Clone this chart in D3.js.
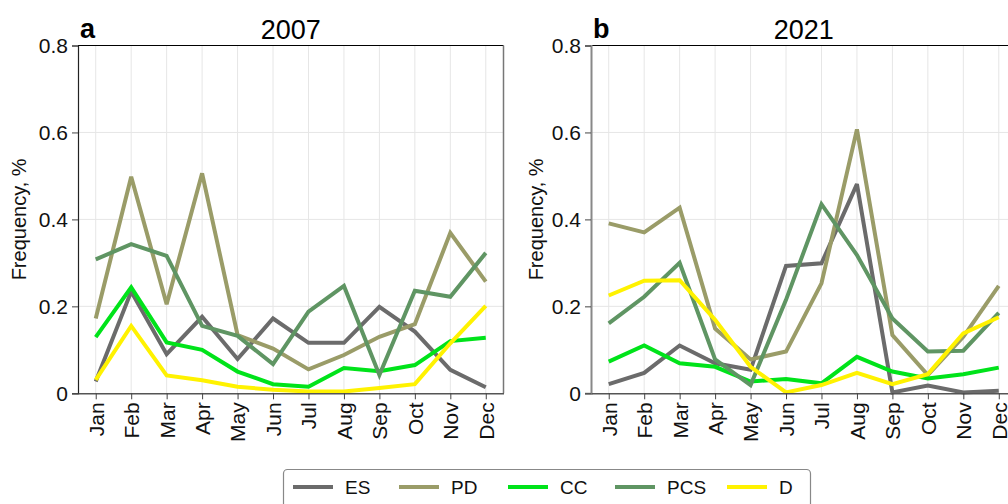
<!DOCTYPE html>
<html>
<head>
<meta charset="utf-8">
<script src="https://cdn.jsdelivr.net/npm/d3@7"></script>
<style>
  body { margin: 0; background: #fff; }
  svg { font-family: "Liberation Sans", Arial, sans-serif; }
</style>
</head>
<body>
<div id="chart"></div>
<script>
const months = ["Jan","Feb","Mar","Apr","May","Jun","Jul","Aug","Sep","Oct","Nov","Dec"];
const seriesNames = ["ES","PD","CC","PCS","D"];
const colors = ["#6b6b6b","#9a9c68","#00e31a","#5f9563","#fff200"];
const yTicks = [0, 0.2, 0.4, 0.6, 0.8];

// 2007
const es2007  = [0.027,0.234,0.090,0.176,0.079,0.172,0.116,0.116,0.199,0.142,0.054,0.014];
const pd2007  = [0.172,0.498,0.205,0.506,0.134,0.103,0.055,0.088,0.130,0.159,0.369,0.257];
const cc2007  = [0.129,0.244,0.117,0.100,0.050,0.021,0.015,0.058,0.051,0.065,0.120,0.128];
const pcs2007 = [0.308,0.343,0.316,0.155,0.132,0.067,0.188,0.247,0.042,0.236,0.222,0.323];
const d2007   = [0.031,0.155,0.041,0.030,0.015,0.008,0.004,0.004,0.012,0.021,0.115,0.201];

// 2021
const es2021  = [0.021,0.047,0.110,0.069,0.054,0.293,0.299,0.481,0.002,0.018,0.002,0.006];
const pd2021  = [0.391,0.370,0.427,0.149,0.078,0.096,0.253,0.607,0.134,0.042,0.130,0.247];
const cc2021  = [0.073,0.110,0.069,0.061,0.027,0.033,0.023,0.084,0.050,0.034,0.044,0.059];
const pcs2021 = [0.161,0.222,0.300,0.078,0.019,0.215,0.435,0.318,0.172,0.096,0.098,0.185];
const d2021   = [0.225,0.259,0.260,0.169,0.061,0.002,0.019,0.047,0.021,0.044,0.138,0.175];

const panels = [
  {tag: "a", title: "2007", left: 78, labelX: -52, data: [es2007, pd2007, cc2007, pcs2007, d2007], axisColor: "#222"},
  {tag: "b", title: "2021", left: 591, labelX: -48, data: [es2021, pd2021, cc2021, pcs2021, d2021], axisColor: "#888"}
];

const W = 1008, H = 504;
const plotTop = 45.5, plotBottom = 393.3, pw = 425.5;

const svg = d3.select("#chart").append("svg")
    .attr("width", W).attr("height", H);

panels.forEach(p => {
  const g = svg.append("g").attr("transform", `translate(${p.left},0)`);

  const x = d3.scalePoint().domain(months).range([0, pw]).padding(0.5);
  const y = d3.scaleLinear().domain([0, 0.8]).range([plotBottom, plotTop]);

  // grid
  g.append("g").selectAll("line").data(months).enter().append("line")
      .attr("x1", d => x(d)).attr("x2", d => x(d))
      .attr("y1", plotTop).attr("y2", plotBottom)
      .attr("stroke", "#e6e6e6").attr("stroke-width", 1);
  g.append("g").selectAll("line").data(yTicks.slice(1)).enter().append("line")
      .attr("x1", 0).attr("x2", pw)
      .attr("y1", d => y(d)).attr("y2", d => y(d))
      .attr("stroke", "#e6e6e6").attr("stroke-width", 1);

  // box: top and right
  g.append("line").attr("x1", 0).attr("x2", pw).attr("y1", plotTop).attr("y2", plotTop)
      .attr("stroke", "#000").attr("stroke-width", 1.2);
  g.append("line").attr("x1", pw).attr("x2", pw).attr("y1", plotTop).attr("y2", plotBottom)
      .attr("stroke", "#777").attr("stroke-width", 1.5);

  // lines
  const line = d3.line().x((d, i) => x(months[i])).y(d => y(d));
  p.data.forEach((vals, k) => {
    g.append("path").datum(vals)
      .attr("d", line)
      .attr("fill", "none")
      .attr("stroke", colors[k])
      .attr("stroke-width", 4)
      .attr("stroke-linejoin", "miter")
      .attr("stroke-miterlimit", 3);
  });

  // y axis
  const ya = g.append("g")
      .call(d3.axisLeft(y).tickValues(yTicks).tickSize(6)
        .tickFormat(d => d === 0 ? "0" : d3.format(".1f")(d)));
  ya.select(".domain").attr("stroke", p.axisColor).attr("stroke-width", p.tag === "b" ? 2 : 1.2);
  ya.selectAll(".tick line").attr("stroke", "#444");
  ya.selectAll(".tick text").attr("font-size", 21).attr("fill", "#111")
      .attr("font-family", "Liberation Sans, Arial, sans-serif").attr("x", -10);

  // x axis
  const xa = g.append("g").attr("transform", `translate(0,${plotBottom})`)
      .call(d3.axisBottom(x).tickSize(6).tickSizeOuter(0));
  xa.select(".domain").attr("stroke", "#555").attr("stroke-width", 1.5);
  xa.selectAll(".tick line").attr("stroke", "#444");
  xa.selectAll(".tick text")
      .attr("font-size", 21).attr("fill", "#111")
      .attr("font-family", "Liberation Sans, Arial, sans-serif")
      .attr("transform", "rotate(-90)")
      .attr("text-anchor", "end")
      .attr("x", -9).attr("y", 0).attr("dy", "0.35em");

  // y label
  g.append("text")
      .attr("transform", `translate(${p.labelX},${(plotTop + plotBottom) / 2}) rotate(-90)`)
      .attr("text-anchor", "middle")
      .attr("font-size", 20).attr("fill", "#111")
      .text("Frequency, %");

  // titles
  g.append("text").attr("x", 2).attr("y", 38)
      .attr("font-size", 27).attr("font-weight", "bold").attr("fill", "#000")
      .text(p.tag);
  g.append("text").attr("x", pw / 2).attr("y", 39)
      .attr("text-anchor", "middle")
      .attr("font-size", 27).attr("fill", "#000")
      .text(p.title);
});

// legend
const lg = svg.append("g");
lg.append("rect").attr("x", 283.5).attr("y", 469.5).attr("width", 527).attr("height", 50)
    .attr("rx", 4).attr("fill", "#fff").attr("stroke", "#888").attr("stroke-width", 1.2);
const legX = [293, 399, 508, 615, 727];
seriesNames.forEach((name, k) => {
  lg.append("line").attr("x1", legX[k]).attr("x2", legX[k] + 40)
      .attr("y1", 487).attr("y2", 487)
      .attr("stroke", colors[k]).attr("stroke-width", 4);
  lg.append("text").attr("x", legX[k] + 52).attr("y", 487).attr("dy", "0.35em")
      .attr("font-size", 19).attr("fill", "#111").text(name);
});
</script>
</body>
</html>
